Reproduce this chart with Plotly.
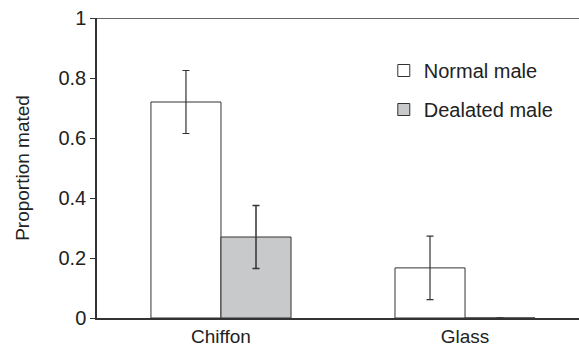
import plotly.graph_objects as go

categories = ["Chiffon", "Glass"]
normal_male = [0.72, 0.167]
normal_err = [0.105, 0.106]
dealated_male = [0.27, 0.0]
dealated_err = [0.105, 0.0]
y_ticks = [0, 0.2, 0.4, 0.6, 0.8, 1]
y_tick_labels = ["0", "0.2", "0.4", "0.6", "0.8", "1"]

x_pos = list(range(len(categories)))
line_col = "#333333"
txt_col = "#222222"
font = "Liberation Sans, Arial, sans-serif"

fig = go.Figure()
fig.add_trace(go.Bar(
    x=x_pos, y=normal_male, name="Normal male", legendgroup="a",
    marker=dict(color="white", line=dict(color=line_col, width=1)),
    error_y=dict(type="data", array=normal_err, visible=True, color=line_col, thickness=1.2, width=3.5),
))
fig.add_trace(go.Bar(
    x=x_pos, y=dealated_male, name="Dealated male", legendgroup="b",
    marker=dict(color="#c8c9cb", line=dict(color=line_col, width=1)),
    error_y=dict(type="data", array=dealated_err, visible=True,
                 color=line_col, thickness=1.5, width=3.5),
))

fig.add_shape(type="line", xref="paper", yref="y", x0=0, x1=1, y0=1, y1=1,
              line=dict(color=line_col, width=1.5))

fig.update_layout(
    width=579, height=347,
    margin=dict(l=97, r=0, t=18, b=27),
    paper_bgcolor="white", plot_bgcolor="white",
    barmode="group", bargap=0.426, bargroupgap=0,
    font=dict(family=font, size=20, color=txt_col),
    showlegend=True,
    legend=dict(x=0.595, y=0.89, xanchor="left", yanchor="top", bgcolor="rgba(0,0,0,0)",
                font=dict(size=20, family=font, color=txt_col),
                traceorder="grouped", tracegroupgap=10, itemwidth=30),
    xaxis=dict(
        tickmode="array", tickvals=x_pos, ticktext=categories,
        range=[-0.508, 1.467], showline=True, linecolor=line_col, linewidth=1.5,
        ticks="", showgrid=False, zeroline=False,
        tickfont=dict(size=19, family=font, color=txt_col),
    ),
    yaxis=dict(
        range=[0, 1], tickmode="array", tickvals=y_ticks, ticktext=y_tick_labels,
        showline=True, linecolor=line_col, linewidth=1.5,
        ticks="outside", ticklen=5, tickcolor=line_col, tickwidth=1.2,
        showgrid=False, zeroline=False,
        title=dict(text="Proportion mated", font=dict(size=19, family=font, color=txt_col), standoff=24),
        tickfont=dict(size=20, family=font, color=txt_col),
    ),
)

fig.write_html("out.html", config={"displayModeBar": False},
               post_script="document.body.style.margin='0';document.body.style.overflow='hidden';")
